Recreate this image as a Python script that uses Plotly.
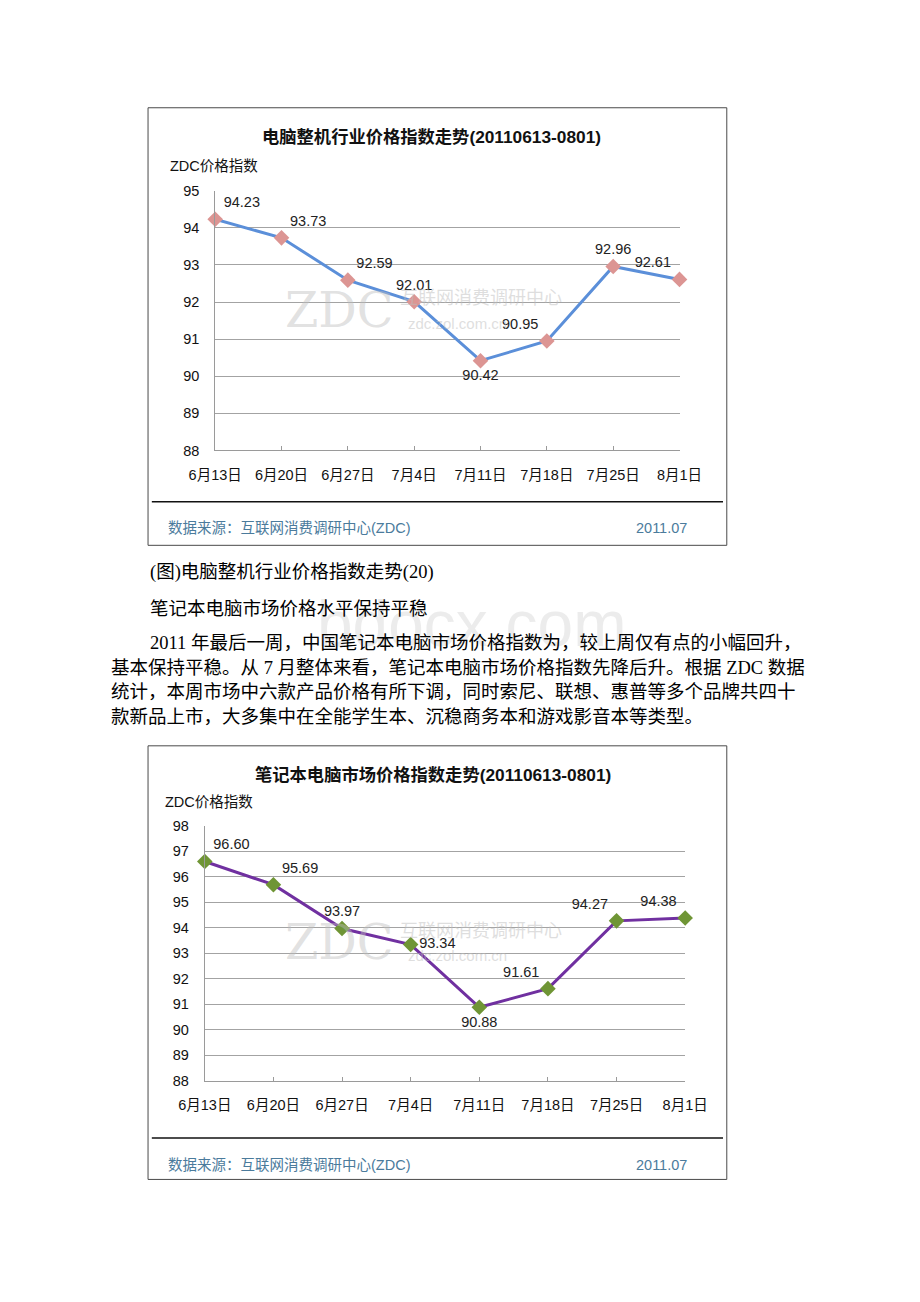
import plotly.graph_objects as go

# ---------------- data ----------------
dates = ["6月13日", "6月20日", "6月27日", "7月4日", "7月11日", "7月18日", "7月25日", "8月1日"]
pc_index = [94.23, 93.73, 92.59, 92.01, 90.42, 90.95, 92.96, 92.61]
nb_index = [96.60, 95.69, 93.97, 93.34, 90.88, 91.61, 94.27, 94.38]
pc_title = "电脑整机行业价格指数走势(20110613-0801)"
nb_title = "笔记本电脑市场价格指数走势(20110613-0801)"
y_title = "ZDC价格指数"
source_text = "数据来源：互联网消费调研中心(ZDC)"
date_text = "2011.07"
caption = "(图)电脑整机行业价格指数走势(20)"
heading = "笔记本电脑市场价格水平保持平稳"
para_lines = [
    "2011 年最后一周，中国笔记本电脑市场价格指数为，较上周仅有点的小幅回升，",
    "基本保持平稳。从 7 月整体来看，笔记本电脑市场价格指数先降后升。根据 ZDC 数据",
    "统计，本周市场中六款产品价格有所下调，同时索尼、联想、惠普等多个品牌共四十",
    "款新品上市，大多集中在全能学生本、沉稳商务本和游戏影音本等类型。",
]

W, H = 920, 1302
def px(x):
    return x / W
def py(y):
    return 1 - y / H

SANS = "Liberation Sans, Arial, Noto Sans CJK SC"
SERIF = "Liberation Serif, Times New Roman, Noto Sans CJK SC"

fig = go.Figure()

fig.add_trace(go.Scatter(
    x=dates, y=pc_index, xaxis="x", yaxis="y",
    mode="lines+markers+text",
    line=dict(color="#5b8fd9", width=3),
    marker=dict(symbol="diamond", size=12, color="#dc9593"),
    text=[f"{v:.2f}" for v in pc_index],
    textposition=["top right", "top right", "top right", "top center",
                  "bottom center", "top left", "top center", "top left"],
    textfont=dict(family=SANS, size=14.5, color="#222222"),
    cliponaxis=False, showlegend=False, hoverinfo="skip",
))
fig.add_trace(go.Scatter(
    x=dates, y=nb_index, xaxis="x2", yaxis="y2",
    mode="lines+markers+text",
    line=dict(color="#7030a0", width=3),
    marker=dict(symbol="diamond", size=12, color="#6f9535"),
    text=[f"{v:.2f}" for v in nb_index],
    textposition=["top right", "top right", "top center", "middle right",
                  "bottom center", "top left", "top left", "top left"],
    textfont=dict(family=SANS, size=14.5, color="#222222"),
    cliponaxis=False, showlegend=False, hoverinfo="skip",
))

xcommon = dict(type="category", range=[0, 7], showgrid=False, showline=True,
               linecolor="#9a9a9a", linewidth=1, ticks="inside", ticklen=4,
               tickcolor="#9a9a9a", ticklabelstandoff=11, zeroline=False,
               tickfont=dict(family=SANS, size=14.5, color="#111111"))
ycommon = dict(showgrid=True, gridcolor="#a3a3a3", gridwidth=1, showline=True,
               linecolor="#9a9a9a", linewidth=1, ticks="", dtick=1, zeroline=False,
               ticklabelstandoff=12,
               tickfont=dict(family=SANS, size=14.5, color="#111111"))

fig.update_layout(
    width=W, height=H, margin=dict(l=0, r=0, t=0, b=0),
    paper_bgcolor="white", plot_bgcolor="rgba(0,0,0,0)",
    xaxis=dict(domain=[px(199), px(690)], anchor="y", **xcommon),
    yaxis=dict(domain=[py(448), py(185)], anchor="x", range=[88, 95], **ycommon),
    xaxis2=dict(domain=[px(188), px(696)], anchor="y2", **xcommon),
    yaxis2=dict(domain=[py(1086), py(828)], anchor="x2", range=[88, 98], **ycommon),
)

shapes = []
for top, bot in [(101, 544), (747, 1186)]:
    shapes.append(dict(type="rect", xref="paper", yref="paper",
                       x0=px(128), x1=px(740), y0=py(bot), y1=py(top),
                       line=dict(color="#4a4a4a", width=1), layer="below"))
for yy in [500, 1144]:
    shapes.append(dict(type="line", xref="paper", yref="paper",
                       x0=px(132), x1=px(736), y0=py(yy), y1=py(yy),
                       line=dict(color="#111111", width=1.5)))
fig.update_layout(shapes=shapes)

ann = []
def add(text, x, y, size, family=SANS, color="#000", xanchor="left", bold=False, yanchor="middle"):
    ann.append(dict(text=f"<b>{text}</b>" if bold else text, x=px(x), y=py(y),
                    xref="paper", yref="paper", showarrow=False,
                    xanchor=xanchor, yanchor=yanchor,
                    font=dict(family=family, size=size, color=color)))

# faint watermarks
for (zx, zy) in [(330, 306), (330, 946)]:
    add("ZDC", zx, zy, 48, family="DejaVu Serif", color="rgba(190,190,190,0.45)", xanchor="center")
    add("互联网消费调研中心", zx + 150, zy - 12, 18, color="rgba(190,190,190,0.5)", xanchor="center")
    add("zdc.zol.com.cn", zx + 125, zy + 13, 15, color="rgba(190,190,190,0.5)", xanchor="center")
add("bdocx.com", 470, 624, 64, family="Liberation Sans", color="rgba(200,200,200,0.35)", xanchor="center")

# chart 1 texts
add(pc_title, 428, 131, 17.3, bold=True, xanchor="center", color="#111")
add(y_title, 149, 160, 14.5, color="#111")
add(source_text, 147, 526, 14.5, color="#4b7b9c")
add(date_text, 700, 526, 14.5, color="#4b7b9c", xanchor="right")
# chart 2 texts
add(nb_title, 429, 777, 17.3, bold=True, xanchor="center", color="#111")
add(y_title, 144, 804, 14.5, color="#111")
add(source_text, 147, 1171, 14.5, color="#4b7b9c")
add(date_text, 700, 1171, 14.5, color="#4b7b9c", xanchor="right")

# body text
add(caption, 128, 572, 18.5, family=SERIF)
add(heading, 128, 608, 18.5, family=SERIF)
ys = [643, 668, 693, 718]
for i, line in enumerate(para_lines):
    add(line, 128 if i == 0 else 87, ys[i], 18.5, family=SERIF)

fig.update_layout(annotations=ann)
fig.write_html("out.html")
